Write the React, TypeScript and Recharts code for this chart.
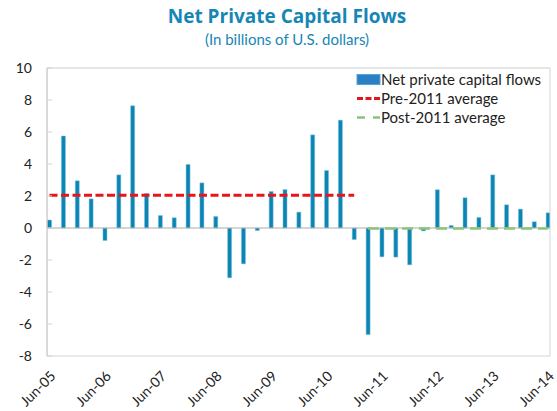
import React from 'react';
import { ComposedChart, Bar, Line, XAxis, YAxis, ReferenceLine } from 'recharts';

const categories = [
  'Jun-05', 'Sep-05', 'Dec-05', 'Mar-06', 'Jun-06', 'Sep-06', 'Dec-06', 'Mar-07',
  'Jun-07', 'Sep-07', 'Dec-07', 'Mar-08', 'Jun-08', 'Sep-08', 'Dec-08', 'Mar-09',
  'Jun-09', 'Sep-09', 'Dec-09', 'Mar-10', 'Jun-10', 'Sep-10', 'Dec-10', 'Mar-11',
  'Jun-11', 'Sep-11', 'Dec-11', 'Mar-12', 'Jun-12', 'Sep-12', 'Dec-12', 'Mar-13',
  'Jun-13', 'Sep-13', 'Dec-13', 'Mar-14', 'Jun-14',
];

const netFlows = [
  0.5, 5.75, 2.95, 1.82, -0.78, 3.32, 7.64, 2.16,
  0.78, 0.64, 3.97, 2.82, 0.72, -3.11, -2.24, -0.16,
  2.28, 2.4, 0.99, 5.82, 3.59, 6.74, -0.72, -6.66,
  -1.8, -1.82, -2.3, -0.18, 2.39, 0.16, 1.89, 0.66,
  3.32, 1.45, 1.18, 0.39, 0.95,
];

const pre2011Avg: (number | null)[] = [
  2.05, 2.05, 2.05, 2.05, 2.05, 2.05, 2.05, 2.05,
  2.05, 2.05, 2.05, 2.05, 2.05, 2.05, 2.05, 2.05,
  2.05, 2.05, 2.05, 2.05, 2.05, 2.05, 2.05, null,
  null, null, null, null, null, null, null, null,
  null, null, null, null, null,
];

const post2011Avg: (number | null)[] = [
  null, null, null, null, null, null, null, null,
  null, null, null, null, null, null, null, null,
  null, null, null, null, null, null, null, -0.03,
  -0.03, -0.03, -0.03, -0.03, -0.03, -0.03, -0.03, -0.03,
  -0.03, -0.03, -0.03, -0.03, -0.03,
];

const yTicks = [-8, -6, -4, -2, 0, 2, 4, 6, 8, 10];
const xTickIndexes = [0, 4, 8, 12, 16, 20, 24, 28, 32, 36];

const seriesNames = ['Net private capital flows', 'Pre-2011 average', 'Post-2011 average'];

const data = categories.map((c, i) => ({
  idx: i,
  cat: c,
  flow: netFlows[i],
  pre: pre2011Avg[i],
  post: post2011Avg[i],
}));

const FONT = 'Lato, "Open Sans", sans-serif';
const TITLE_FONT = '"Open Sans", Lato, sans-serif';
const TITLE_BLUE = '#1686b6';
const X_MAX = 36.14;

const YTick = (props: any) => {
  const { x, y, payload } = props;
  return (
    <g>
      <text x={x} y={y} dy={5} textAnchor="end" fontSize={14} fill="#222" fontFamily={FONT}>
        {payload.value}
      </text>
      <line x1={x + 15} x2={x + 20} y1={y} y2={y} stroke="#d4d4d4" strokeWidth={1} />
    </g>
  );
};

const XTick = (props: any) => {
  const { x, y, payload } = props;
  const ax = x + 7;
  const ay = y + 11;
  return (
    <text
      x={ax}
      y={ay}
      transform={`rotate(-45 ${ax} ${ay})`}
      textAnchor="end"
      fontSize={14}
      fill="#222"
      fontFamily={FONT}
    >
      {categories[payload.value]}
    </text>
  );
};

const LegendBox = () => (
  <div
    style={{
      position: 'absolute',
      left: 356,
      top: 70,
      fontFamily: FONT,
      fontSize: 15,
      color: '#222',
      lineHeight: '19px',
    }}
  >
    <div style={{ display: 'flex', alignItems: 'center', height: 19 }}>
      <svg width={25} height={19}>
        <rect x={1} y={4.5} width={23} height={10} fill="#2a80c2" stroke="#55a3dc" strokeWidth={1} />
      </svg>
      <span>{seriesNames[0]}</span>
    </div>
    <div style={{ display: 'flex', alignItems: 'center', height: 19 }}>
      <svg width={25} height={19}>
        <line x1={1} x2={24} y1={9.5} y2={9.5} stroke="#e8141b" strokeWidth={3} strokeDasharray="6 2.5" />
      </svg>
      <span>{seriesNames[1]}</span>
    </div>
    <div style={{ display: 'flex', alignItems: 'center', height: 19 }}>
      <svg width={25} height={19}>
        <line x1={1} x2={24} y1={9.5} y2={9.5} stroke="#8cc47a" strokeWidth={2.5} strokeDasharray="8 8" />
      </svg>
      <span>{seriesNames[2]}</span>
    </div>
  </div>
);

export default function App() {
  return (
    <div style={{ position: 'absolute', left: 0, top: 0, width: 557, height: 411, background: '#fff' }}>
      <ComposedChart
        width={557}
        height={411}
        data={data}
        margin={{ top: 68, right: 7, bottom: 0, left: 0 }}
        style={{ position: 'absolute', left: 0, top: 0 }}
      >
        <XAxis
          dataKey="idx"
          type="number"
          domain={[-0.18, X_MAX]}
          ticks={xTickIndexes}
          interval={0}
          tick={<XTick />}
          tickLine={false}
          axisLine={{ stroke: '#d4d4d4' }}
          tickSize={0}
          tickMargin={10}
          height={55}
          allowDataOverflow
        />
        <YAxis
          type="number"
          domain={[-8, 10]}
          ticks={yTicks}
          interval={0}
          width={47}
          tick={<YTick />}
          tickLine={false}
          tickSize={0}
          tickMargin={15}
          axisLine={{ stroke: '#b4b4b4' }}
        />
        <ReferenceLine y={10} stroke="#cccccc" ifOverflow="visible" />
        <ReferenceLine x={X_MAX} stroke="#d4d4d4" ifOverflow="visible" />
        <ReferenceLine y={0} stroke="#ababab" strokeWidth={1.2} />
        <Bar
          dataKey="flow"
          name={seriesNames[0]}
          fill="#0b85b4"
          stroke="#7cbfdc"
          strokeWidth={0.5}
          barSize={4}
          isAnimationActive={false}
        />
        <Line
          dataKey="pre"
          name={seriesNames[1]}
          stroke="#e8141b"
          strokeWidth={3}
          strokeDasharray="8 3.5"
          dot={false}
          activeDot={false}
          isAnimationActive={false}
        />
        <Line
          dataKey="post"
          name={seriesNames[2]}
          stroke="#8cc47a"
          strokeWidth={2.5}
          strokeDasharray="11 6"
          dot={false}
          activeDot={false}
          isAnimationActive={false}
        />
      </ComposedChart>
      <div
        style={{
          position: 'absolute',
          left: 0,
          width: 574,
          top: 5,
          textAlign: 'center',
          fontFamily: TITLE_FONT,
          color: TITLE_BLUE,
          fontSize: 19,
          fontWeight: 700,
          lineHeight: '22px',
        }}
      >
        Net Private Capital Flows
      </div>
      <div
        style={{
          position: 'absolute',
          left: 0,
          width: 574,
          top: 30,
          textAlign: 'center',
          fontFamily: FONT,
          color: TITLE_BLUE,
          fontSize: 15,
          lineHeight: '18px',
        }}
      >
        (In billions of U.S. dollars)
      </div>
      <LegendBox />
    </div>
  );
}
